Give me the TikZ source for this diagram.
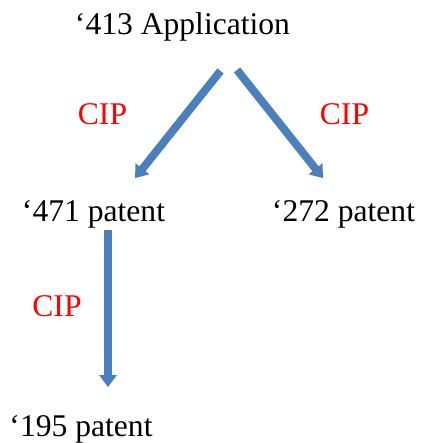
\documentclass[tikz,border=0pt]{standalone}
\usepackage{fontspec}
\setmainfont{Liberation Serif}
\usetikzlibrary{arrows.meta}
\definecolor{cipblue}{RGB}{76,128,189}

\begin{document}
\begin{tikzpicture}[x = 1pt, y = 1pt,
  doc/.style = {inner sep = 0pt, anchor = base, font = \fontsize{31.6}{38}\selectfont},
  ciplabel/.style = {doc, text = red},
  cip/.style = {draw = cipblue, line width = 8pt, -{Triangle[width = 17pt, length = 12pt]}}]
\useasboundingbox (0, 0) rectangle (421, 443);
\node [doc] (app) at (182.5, 408) {‘413 Application};
\node [doc] (p471) at (93.5, 221) {‘471 patent};
\node [doc] (p272) at (343.5, 221) {‘272 patent};
\node [doc] (p195) at (81, 6) {‘195 patent};
\node [ciplabel] (cipa) at (102.5, 318) {CIP};
\node [ciplabel] (cipb) at (344.5, 318) {CIP};
\node [ciplabel] (cipc) at (57, 126) {CIP};
\path [cip] ([xshift = 38pt, yshift = -29pt]app.south) -- ([xshift = 41.5pt, yshift = 22.6pt]p471.north);
\path [cip] ([xshift = 54.5pt, yshift = -28pt]app.south) -- ([xshift = -20.5pt, yshift = 22.6pt]p272.north);
\path [cip] ([xshift = 14.5pt, yshift = -1pt]p471.south) -- ([xshift = 27pt, yshift = 28.6pt]p195.north);
\end{tikzpicture}
\end{document}
